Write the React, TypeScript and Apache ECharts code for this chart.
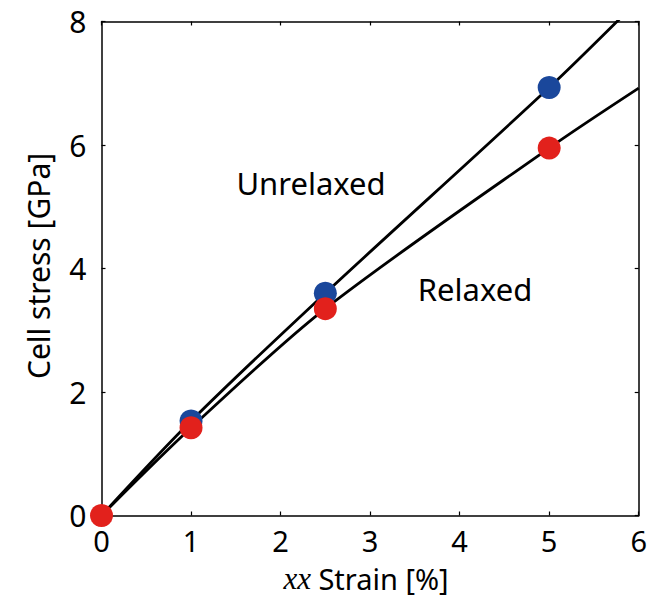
import React, { useEffect, useRef } from "react";
import * as echarts from "echarts";

const strainPoints = [0, 1, 2.5, 5];
const unrelaxedPoints = [0, 1.53, 3.6, 6.93];
const relaxedPoints = [0, 1.42, 3.35, 5.95];

const unrelaxedCurveX = [0, 1, 2.5, 5, 6];
const unrelaxedCurveY = [0, 1.53, 3.6, 6.93, 8.35];
const relaxedCurveX = [0, 1, 2.5, 5, 6];
const relaxedCurveY = [0, 1.42, 3.35, 5.95, 6.92];

const xTicks = [0, 1, 2, 3, 4, 5, 6];
const yTicks = [0, 2, 4, 6, 8];

const FONT = "Noto Sans";

export default function App() {
  const ref = useRef<HTMLDivElement>(null);
  useEffect(() => {
    const chart = echarts.init(ref.current!, null, { renderer: "svg" });
    const zip = (xs: number[], ys: number[]) => xs.map((x, i) => [x, ys[i]]);
    const axisLine = { show: true, onZero: false, lineStyle: { color: "#000", width: 1.5 } };
    const tick = { show: true, inside: true, length: 4, lineStyle: { color: "#000", width: 1.2 } };
    chart.setOption({
      animation: false,
      backgroundColor: "#fff",
      grid: { left: 101.5, right: 8.5, top: 21.5, bottom: 81.5 },
      xAxis: [
        {
          type: "value", min: 0, max: 6, interval: 1,
          axisLine, axisTick: tick, splitLine: { show: false },
          axisLabel: { color: "#000", fontSize: 29, lineHeight: 26, fontFamily: FONT, margin: 12 },
        },
        {
          type: "value", position: "top", min: 0, max: 6, interval: 1,
          axisLine, axisTick: tick, splitLine: { show: false }, axisLabel: { show: false },
        },
      ],
      yAxis: [
        {
          type: "value", min: 0, max: 8, interval: 2,
          axisLine, axisTick: tick, splitLine: { show: false },
          axisLabel: { color: "#000", fontSize: 30, fontFamily: FONT, margin: 15 },
        },
        {
          type: "value", position: "right", min: 0, max: 8, interval: 2,
          axisLine, axisTick: tick, splitLine: { show: false }, axisLabel: { show: false },
        },
      ],
      series: [
        {
          type: "line", data: zip(unrelaxedCurveX, unrelaxedCurveY), smooth: 0.3,
          showSymbol: false, lineStyle: { color: "#000", width: 2.8 }, z: 2,
        },
        {
          type: "line", data: zip(relaxedCurveX, relaxedCurveY), smooth: 0.3,
          showSymbol: false, lineStyle: { color: "#000", width: 2.8 }, z: 2,
        },
        {
          type: "scatter", data: zip(strainPoints.slice(1), unrelaxedPoints.slice(1)),
          symbolSize: 23, itemStyle: { color: "#1a479b", opacity: 1 }, z: 3,
        },
        {
          type: "scatter", data: zip(strainPoints, relaxedPoints),
          symbolSize: 23, itemStyle: { color: "#e2211c", opacity: 1 }, z: 4,
        },
      ],
      graphic: [
        {
          type: "text", x: 311, y: 183,
          style: { text: "Unrelaxed", fontSize: 31, fontFamily: FONT, fill: "#000", align: "center", verticalAlign: "middle" },
        },
        {
          type: "text", x: 475, y: 289,
          style: { text: "Relaxed", fontSize: 31, fontFamily: FONT, fill: "#000", align: "center", verticalAlign: "middle" },
        },
        {
          type: "text", x: 38, y: 266, rotation: Math.PI / 2,
          style: { text: "Cell stress [GPa]", fontSize: 30, fontFamily: FONT, fill: "#000", align: "center", verticalAlign: "middle" },
        },
        {
          type: "text", x: 366, y: 578,
          style: {
            text: "{it|xx} Strain [%]", fontSize: 29, lineHeight: 26, fontFamily: FONT, fill: "#000", align: "center", verticalAlign: "middle",
            rich: { it: { fontFamily: "Liberation Serif", fontStyle: "italic", fontSize: 31, lineHeight: 26, fill: "#000" } },
          },
        },
      ],
    });
    return () => chart.dispose();
  }, []);
  return <div ref={ref} style={{ position: "fixed", left: 0, top: 0, width: 650, height: 597 }} />;
}
